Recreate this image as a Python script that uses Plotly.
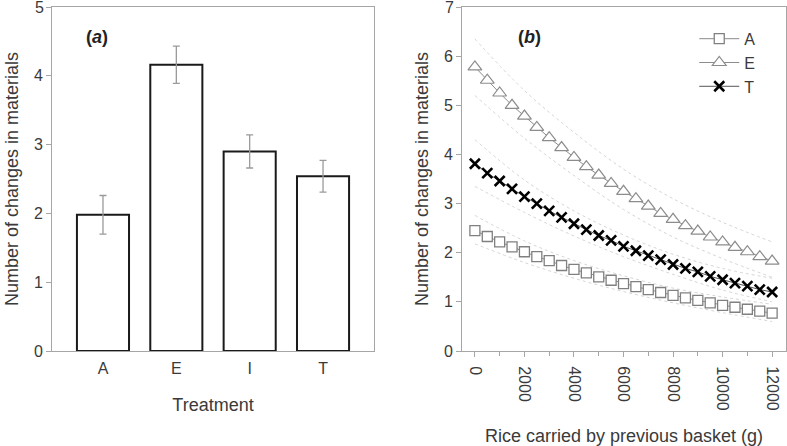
import plotly.graph_objects as go

# Panel (a) data
treatments = ["A", "E", "I", "T"]
bar_means = [1.98, 4.16, 2.90, 2.54]
bar_err = [0.28, 0.27, 0.24, 0.23]

# Panel (b) data
rice = [0, 500, 1000, 1500, 2000, 2500, 3000, 3500, 4000, 4500, 5000, 5500,
        6000, 6500, 7000, 7500, 8000, 8500, 9000, 9500, 10000, 10500, 11000,
        11500, 12000]
fit_A = [2.45, 2.33, 2.22, 2.12, 2.02, 1.92, 1.84, 1.74, 1.66, 1.59, 1.51, 1.44,
         1.37, 1.31, 1.25, 1.19, 1.13, 1.08, 1.03, 0.98, 0.93, 0.89, 0.85, 0.81, 0.77]
fit_E = [5.78, 5.51, 5.25, 5.00, 4.78, 4.55, 4.34, 4.14, 3.94, 3.75, 3.58, 3.41,
         3.25, 3.10, 2.95, 2.80, 2.68, 2.55, 2.44, 2.32, 2.22, 2.11, 2.02, 1.92, 1.83]
fit_T = [3.81, 3.62, 3.46, 3.30, 3.14, 3.00, 2.85, 2.72, 2.59, 2.47, 2.35, 2.25,
         2.13, 2.04, 1.94, 1.86, 1.76, 1.68, 1.61, 1.52, 1.45, 1.38, 1.32, 1.25, 1.20]

band_x = [0, 2000, 4000, 6000, 8000, 10000, 12000]
E_upper = [6.35, 5.30, 4.45, 3.70, 3.10, 2.62, 2.22]
E_lower = [5.20, 4.33, 3.57, 2.88, 2.32, 1.88, 1.50]
T_upper = [4.30, 3.48, 2.85, 2.36, 1.97, 1.68, 1.48]
T_lower = [3.35, 2.82, 2.34, 1.92, 1.56, 1.24, 1.00]
A_upper = [2.76, 2.24, 1.84, 1.53, 1.28, 1.10, 0.95]
A_lower = [2.18, 1.80, 1.48, 1.21, 0.98, 0.78, 0.60]

x_ticks = [0, 2000, 4000, 6000, 8000, 10000, 12000]
x_ticklabels = ["0", "2000", "4000", "6000", "8000", "10000", "12000"]
ya_ticks = [0, 1, 2, 3, 4, 5]
yb_ticks = [0, 1, 2, 3, 4, 5, 6, 7]

TEXT = "#3a3a3a"
AXIS = "#a6a6a6"
FONT = "Liberation Sans, Arial, sans-serif"

fig = go.Figure()

fig.add_trace(go.Bar(
    x=treatments, y=bar_means, xaxis="x", yaxis="y",
    marker=dict(color="white", line=dict(color="#1a1a1a", width=2)),
    width=0.71,
    error_y=dict(type="data", array=bar_err, color="#9a9a9a", thickness=1.3, width=3.5),
    showlegend=False,
))

for up, lo in [(E_upper, E_lower), (T_upper, T_lower), (A_upper, A_lower)]:
    for band in (up, lo):
        fig.add_trace(go.Scatter(
            x=band_x, y=band, xaxis="x2", yaxis="y2", mode="lines",
            line=dict(color="#d0d0d0", width=0.9, dash="dot", shape="spline"),
            showlegend=False, hoverinfo="skip",
        ))

fig.add_trace(go.Scatter(
    x=rice, y=fit_A, name="A", xaxis="x2", yaxis="y2", mode="lines+markers",
    line=dict(color="#8c8c8c", width=1),
    marker=dict(symbol="square", size=10, color="white",
                line=dict(color="#808080", width=1.3)),
))
fig.add_trace(go.Scatter(
    x=rice, y=fit_E, name="E", xaxis="x2", yaxis="y2", mode="lines+markers",
    line=dict(color="#8c8c8c", width=1),
    marker=dict(symbol="triangle-up", size=12, color="white",
                line=dict(color="#8c8c8c", width=1.2)),
))
fig.add_trace(go.Scatter(
    x=rice, y=fit_T, name="T", xaxis="x2", yaxis="y2", mode="lines+markers",
    line=dict(color="#555555", width=1),
    marker=dict(symbol="x-thin", size=10, color="black",
                line=dict(color="black", width=2.6)),
))

axis_common = dict(showline=True, linecolor=AXIS, linewidth=1, mirror=True,
                   showgrid=False, zeroline=False, automargin=False,
                   tickfont=dict(size=16, color=TEXT, family=FONT))

T_M, B_M, L_M, R_M = 7, 95, 52, 1

fig.update_layout(
    width=787, height=446,
    margin=dict(l=L_M, r=R_M, t=T_M, b=B_M),
    paper_bgcolor="white", plot_bgcolor="white",
    font=dict(family=FONT, color=TEXT),
    xaxis=dict(domain=[0, 0.4387], range=[-0.695, 3.695], ticks="",
               ticklabelstandoff=3,
               title=dict(text="Treatment", font=dict(size=18, color=TEXT), standoff=22),
               **axis_common),
    yaxis=dict(domain=[0, 1], range=[0, 5.0001], tickvals=ya_ticks,
               ticks="outside", ticklen=5, tickcolor=AXIS,
               title=dict(text="Number of changes in materials",
                          font=dict(size=18, color=TEXT), standoff=10),
               **axis_common),
    xaxis2=dict(domain=[0.5586, 1], anchor="y2", range=[-520, 12560],
                tickvals=x_ticks, ticktext=x_ticklabels, tickangle=90,
                ticks="outside", ticklen=5, tickcolor=AXIS, ticklabelstandoff=6,
                minor=dict(dtick=1000, ticks="outside", ticklen=4, tickcolor=AXIS),
                title=dict(text="Rice carried by previous basket (g)",
                           font=dict(size=18, color=TEXT), standoff=20),
                **axis_common),
    yaxis2=dict(domain=[0, 1], anchor="x2", range=[0, 7.0001],
                tickvals=yb_ticks,
                ticks="outside", ticklen=5, tickcolor=AXIS,
                title=dict(text="Number of changes in materials",
                           font=dict(size=18, color=TEXT), standoff=10),
                **axis_common),
    legend=dict(x=0.875, y=0.957, xanchor="left", yanchor="top",
                font=dict(size=16, color=TEXT), itemwidth=40,
                bgcolor="rgba(0,0,0,0)", tracegroupgap=0),
)

# top-end tick labels (plotly hides labels touching the page edge)
fig.add_annotation(text=str(ya_ticks[-1]), x=0, xref="x domain", y=ya_ticks[-1], yref="y",
                   xanchor="right", yanchor="middle", xshift=-6, showarrow=False,
                   font=dict(size=16, color=TEXT, family=FONT))
fig.add_annotation(text=str(yb_ticks[-1]), x=0, xref="x2 domain", y=yb_ticks[-1], yref="y2",
                   xanchor="right", yanchor="middle", xshift=-6, showarrow=False,
                   font=dict(size=16, color=TEXT, family=FONT))

W = 787 - L_M - R_M
H = 446 - T_M - B_M
fig.add_annotation(text="<b>(<i>a</i>)</b>", x=(97 - L_M) / W, y=(351 - 37) / H,
                   xref="paper", yref="paper", xanchor="center", yanchor="middle",
                   showarrow=False, font=dict(size=18, color="#222222"))
fig.add_annotation(text="<b>(<i>b</i>)</b>", x=(529 - L_M) / W, y=(351 - 37) / H,
                   xref="paper", yref="paper", xanchor="center", yanchor="middle",
                   showarrow=False, font=dict(size=18, color="#222222"))

fig.write_html("out.html", config={"displayModeBar": False},
               post_script="document.body.style.margin='0';document.body.style.overflow='hidden';")
